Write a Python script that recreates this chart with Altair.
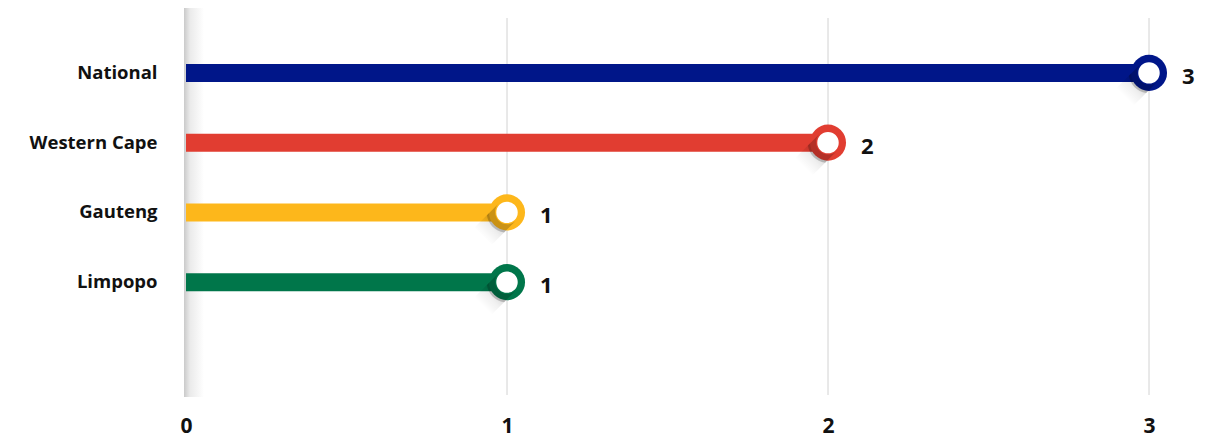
import altair as alt
import pandas as pd

categories = ["National", "Western Cape", "Gauteng", "Limpopo"]
values = [3, 2, 1, 1]
colors = ["#001689", "#E13D31", "#FDB71B", "#00764A"]
x_ticks = [0, 1, 2, 3]

df = pd.DataFrame({"region": categories, "value": values, "color": colors})
ticks_df = pd.DataFrame({"tick": x_ticks[1:]})

FONT = "Open Sans"

x_scale = alt.Scale(domain=[0, 3], nice=False, zero=True)
y_scale = alt.Scale(domain=categories, range=[20, 299], paddingInner=0, paddingOuter=0)

y_enc = alt.Y(
    "region:N",
    sort=categories,
    scale=y_scale,
    axis=alt.Axis(
        title=None, domain=False, ticks=False, grid=False,
        labelFont=FONT, labelFontSize=18.5, labelFontWeight=700, labelColor="#111111",
        labelPadding=29,
    ),
)
y_plain = alt.Y("region:N", sort=categories, scale=y_scale)
x_enc = alt.X(
    "value:Q",
    scale=x_scale,
    axis=alt.Axis(
        title=None, values=x_ticks, format="d", domain=False, ticks=False,
        grid=False, labelFlush=False,
        labelFont=FONT, labelFontSize=21, labelFontWeight=700, labelColor="#111111",
        labelPadding=20,
    ),
)

base = alt.Chart(df)

grid = alt.Chart(ticks_df).mark_rule(color="#d2d2d2", strokeWidth=1).encode(
    x=alt.X("tick:Q", scale=x_scale), y=alt.value(0), y2=alt.value(377)
)

divider = base.transform_filter("datum.region == 'National'").mark_rect(
    color=alt.Gradient(
        gradient="linear", x1=0, x2=1, y1=0, y2=0,
        stops=[
            alt.GradientStop(color="#c4c4c4", offset=0),
            alt.GradientStop(color="#e8e8e8", offset=0.3),
            alt.GradientStop(color="#ffffff", offset=1),
        ],
    ),
    opacity=0.9,
).encode(x=alt.value(-2), x2=alt.value(18), y=alt.value(-18), y2=alt.value(379))

bars = base.mark_bar(size=18).encode(
    x=x_enc,
    x2=alt.datum(0),
    y=y_enc,
    color=alt.Color("color:N", scale=None),
)

LONG_SHADOW = "M 0.424 0.424 L -0.75 1.6 L -1.6 0.75 L -0.424 -0.424 Z"
RING_SHADOW = "M -0.424 -0.424 L -0.990 0.141 A 1 1 0 0 0 -0.141 0.990 L 0.424 0.424 A 0.6 0.6 0 0 1 -0.424 -0.424 Z"

long_shadow = base.mark_point(
    shape=LONG_SHADOW, size=1650, filled=True, strokeWidth=0, opacity=1,
    fill=alt.Gradient(
        gradient="linear", x1=1, y1=0, x2=0, y2=1,
        stops=[
            alt.GradientStop(color="rgba(0,0,0,0.22)", offset=0.3),
            alt.GradientStop(color="rgba(0,0,0,0.06)", offset=0.6),
            alt.GradientStop(color="rgba(0,0,0,0.0)", offset=0.8),
        ],
    ),
).encode(x="value:Q", y=y_plain)

outer = base.mark_circle(size=1300, opacity=1).encode(
    x="value:Q", y=y_plain,
    color=alt.Color("color:N", scale=None),
)
ring_shadow = base.mark_point(
    shape=RING_SHADOW, size=1650, filled=True, strokeWidth=0,
    color="#000000", opacity=0.2,
).encode(x="value:Q", y=y_plain)
inner = base.mark_circle(size=460, opacity=1, color="#ffffff").encode(
    x="value:Q", y=y_plain
)
labels = base.mark_text(
    align="left", baseline="middle", dx=33, dy=4,
    font=FONT, fontSize=22, fontWeight=700, color="#111111",
).encode(x="value:Q", y=y_plain, text="value:Q")

chart = alt.layer(grid, divider, bars, long_shadow, outer, ring_shadow, inner, labels).properties(
    width=963, height=377,
    autosize=alt.AutoSizeParams(type="none"),
    padding={"left": 178, "top": 10, "right": 58, "bottom": 46},
).configure_view(stroke=None)

chart.save("out.html", embed_options={"renderer": "svg", "actions": False})
